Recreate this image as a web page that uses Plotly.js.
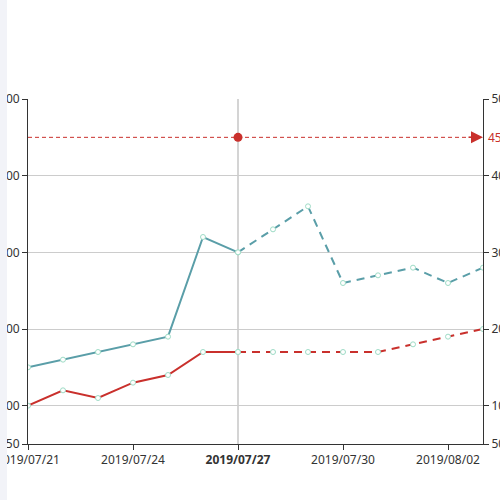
<!DOCTYPE html>
<html>
<head>
<meta charset="utf-8">
<script src="https://cdn.plot.ly/plotly-3.0.1.min.js"></script>
<style>
  html, body { margin: 0; padding: 0; background: #fff; }
  #chart { width: 500px; height: 500px; }
</style>
</head>
<body>
<div id="chart"></div>
<script>
var dates = ['2019/07/21', '2019/07/22', '2019/07/23', '2019/07/24', '2019/07/25', '2019/07/26', '2019/07/27',
             '2019/07/28', '2019/07/29', '2019/07/30', '2019/07/31', '2019/08/01', '2019/08/02', '2019/08/03'];
var tealValues = [150, 160, 170, 180, 190, 320, 300, 330, 360, 260, 270, 280, 260, 280];
var redValues = [100, 120, 110, 130, 140, 170, 170, 170, 170, 170, 170, 180, 190, 200];
var todayIndex = 6;
var limitValue = 450;
var yTicks = [50, 100, 200, 300, 400, 500];
var xTickDates = ['2019/07/21', '2019/07/24', '2019/07/27', '2019/07/30', '2019/08/02'];

var red = '#c9302c';
var teal = '#5a9ea8';
var dotColor = '#9edcc6';

function part(values, from, to) {
  return { x: dates.slice(from, to + 1), y: values.slice(from, to + 1) };
}

function lineTrace(values, from, to, color, dash) {
  var p = part(values, from, to);
  return {
    x: p.x, y: p.y, type: 'scatter', mode: 'lines+markers',
    line: { color: color, width: 2, dash: dash },
    marker: { symbol: 'circle', size: 5, color: '#fff', line: { color: dotColor, width: 1 } },
    hoverinfo: 'skip', showlegend: false
  };
}

var last = dates.length - 1;
var data = [
  lineTrace(tealValues, 0, todayIndex, teal, 'solid'),
  lineTrace(tealValues, todayIndex, last, teal, '8px,6px'),
  lineTrace(redValues, 0, todayIndex, red, 'solid'),
  lineTrace(redValues, todayIndex, last, red, '8px,6px'),
  {
    x: [dates[0], dates[last]], y: [limitValue, limitValue], type: 'scatter', mode: 'lines',
    line: { color: red, width: 1, dash: '4px,3px' }, hoverinfo: 'skip', showlegend: false
  },
  {
    x: [dates[todayIndex]], y: [limitValue], type: 'scatter', mode: 'markers',
    marker: { color: red, size: 9 }, hoverinfo: 'skip', showlegend: false
  },
  {
    x: [dates[0]], y: [limitValue], yaxis: 'y2', type: 'scatter', mode: 'markers',
    marker: { opacity: 0 }, hoverinfo: 'skip', showlegend: false
  }
];

var tickText = xTickDates.map(function (d) {
  return d === dates[todayIndex] ? '<b>' + d + '</b>' : d;
});

var yAxisBase = {
  range: [50, 500], tickvals: yTicks, ticktext: yTicks.map(String),
  ticks: 'outside', ticklen: 5, tickcolor: '#333', tickwidth: 1,
  showline: true, linecolor: '#333', linewidth: 1,
  tickfont: { size: 12, color: '#333' }, zeroline: false, fixedrange: true
};

var layout = {
  width: 500, height: 500,
  margin: { l: 28, r: 17, t: 99, b: 56 },
  paper_bgcolor: '#fff', plot_bgcolor: '#fff',
  font: { family: 'Noto Sans, DejaVu Sans, sans-serif', size: 12, color: '#333' },
  xaxis: {
    type: 'category', range: [0, last], tickvals: xTickDates, ticktext: tickText,
    ticks: 'outside', ticklen: 5, tickcolor: '#333', showline: true, linecolor: '#333',
    showgrid: false, zeroline: false, tickangle: 0, tickfont: { size: 12, color: '#333' }
  },
  yaxis: Object.assign({}, yAxisBase, { side: 'left', showgrid: true, gridcolor: '#ccc', gridwidth: 1 }),
  yaxis2: Object.assign({}, yAxisBase, { side: 'right', overlaying: 'y', showgrid: false }),
  shapes: [
    { type: 'line', xref: 'x', yref: 'paper', x0: dates[todayIndex], x1: dates[todayIndex], y0: 0, y1: 1,
      line: { color: '#d4d4d4', width: 2 }, layer: 'below' },
    { type: 'rect', xref: 'paper', yref: 'paper', x0: -28 / 455, x1: -21 / 455, y0: -1, y1: 2,
      fillcolor: '#f2f3f8', line: { width: 0 }, layer: 'above' }
  ],
  annotations: [
    { x: dates[last], y: limitValue, xref: 'x', yref: 'y', ax: -16, ay: 0, axref: 'pixel', ayref: 'pixel',
      text: '', showarrow: true, arrowhead: 2, arrowsize: 1.6, arrowwidth: 1.5, arrowcolor: red },
    { x: 1, y: limitValue, xref: 'paper', yref: 'y', xanchor: 'left', xshift: 3, text: String(limitValue),
      showarrow: false, font: { color: red, size: 12 } }
  ]
};

Plotly.newPlot('chart', data, layout, { displayModeBar: false, staticPlot: true });
</script>
</body>
</html>
